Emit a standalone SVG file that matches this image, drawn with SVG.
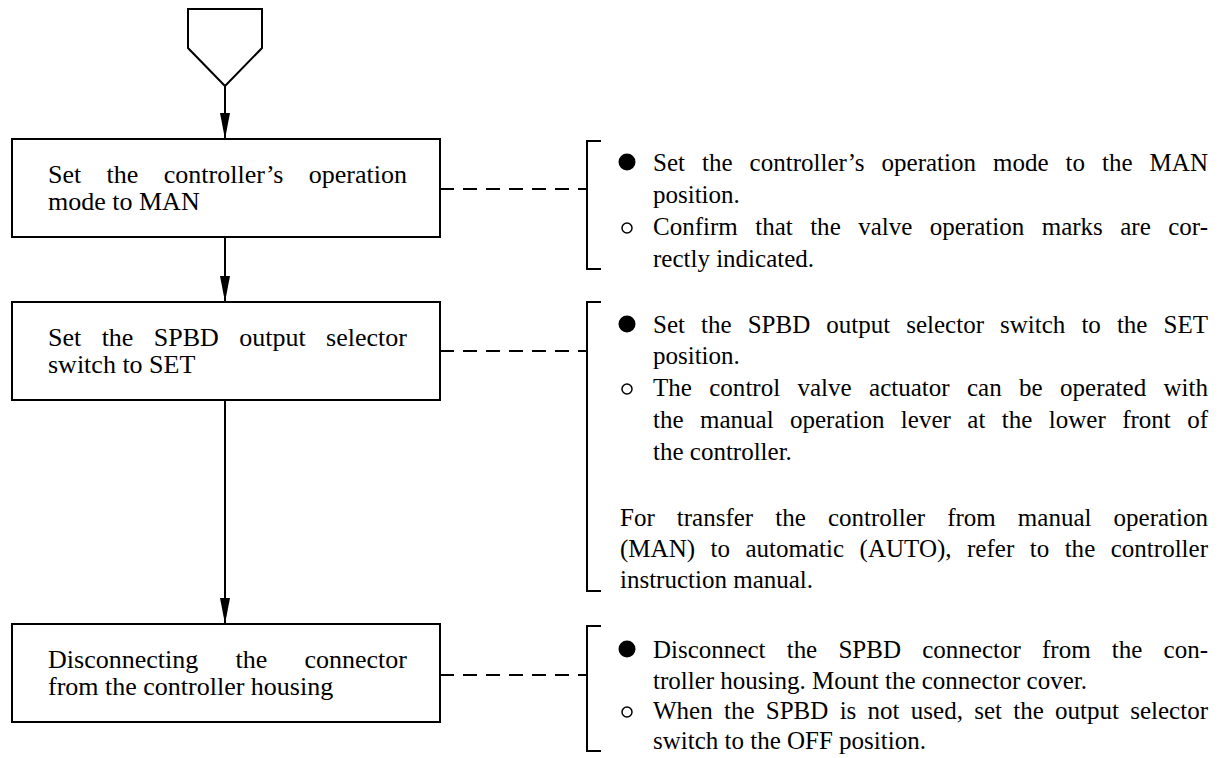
<svg xmlns="http://www.w3.org/2000/svg" width="1222" height="758" viewBox="0 0 1222 758">
<defs>
<marker id="arr" markerUnits="userSpaceOnUse" markerWidth="26" markerHeight="10" refX="26" refY="5" orient="auto">
<path d="M0,0 L26,5 L0,10 Z" fill="#000"/>
</marker>
<style>
.box{fill:#fff;stroke:#000;stroke-width:2}
.ln{fill:none;stroke:#000;stroke-width:2}
.dash{fill:none;stroke:#000;stroke-width:2;stroke-dasharray:14 9}
.br{fill:none;stroke:#000;stroke-width:2}
text{font-family:"Liberation Serif","Times New Roman",serif;font-size:25px;fill:#000}
text.l{font-size:26px}
.dot{fill:#000}
.odot{fill:none;stroke:#000;stroke-width:1.5}
</style>
</defs>
<rect width="1222" height="758" fill="#fff"/>

<g id="start">
<polygon class="box" points="188,9 262,9 262,48 225,86 188,48"/>
</g>

<g id="connectors">
<line class="ln" x1="225" y1="86" x2="225" y2="139" marker-end="url(#arr)"/>
<line class="ln" x1="225" y1="237" x2="225" y2="302" marker-end="url(#arr)"/>
<line class="ln" x1="225" y1="400" x2="225" y2="624" marker-end="url(#arr)"/>
<line class="dash" x1="440" y1="189" x2="587" y2="189"/>
<line class="dash" x1="440" y1="351" x2="587" y2="351"/>
<line class="dash" x1="440" y1="675" x2="587" y2="675"/>
</g>

<g id="step1">
<rect class="box" x="12" y="139" width="428" height="98"/>
<text class="l" x="48" y="183" word-spacing="18.8" textLength="359" lengthAdjust="spacing">Set the controller’s operation</text>
<text class="l" x="48" y="210">mode to MAN</text>
</g>

<g id="step2">
<rect class="box" x="12" y="302" width="428" height="98"/>
<text class="l" x="48" y="346" word-spacing="13.9" textLength="359" lengthAdjust="spacing">Set the SPBD output selector</text>
<text class="l" x="48" y="373">switch to SET</text>
</g>

<g id="step3">
<rect class="box" x="12" y="624" width="428" height="98"/>
<text class="l" x="48" y="668" word-spacing="30.7" textLength="359" lengthAdjust="spacing">Disconnecting the connector</text>
<text class="l" x="48" y="695">from the controller housing</text>
</g>

<g id="note1">
<path class="br" d="M601,141 H587 V269 H601"/>
<circle class="dot" cx="627" cy="162" r="8.5"/>
<text x="653" y="171" word-spacing="10.7" textLength="555" lengthAdjust="spacing">Set the controller’s operation mode to the MAN</text>
<text x="653" y="203">position.</text>
<circle class="odot" cx="627" cy="228" r="5"/>
<text x="653" y="235" word-spacing="11.1" textLength="555" lengthAdjust="spacing">Confirm that the valve operation marks are cor-</text>
<text x="653" y="267">rectly indicated.</text>
</g>

<g id="note2">
<path class="br" d="M601,302 H587 V591 H601"/>
<circle class="dot" cx="627" cy="324" r="8.5"/>
<text x="653" y="333" word-spacing="9.8" textLength="555" lengthAdjust="spacing">Set the SPBD output selector switch to the SET</text>
<text x="653" y="364">position.</text>
<circle class="odot" cx="627" cy="389" r="5"/>
<text x="653" y="396" word-spacing="11.1" textLength="555" lengthAdjust="spacing">The control valve actuator can be operated with</text>
<text x="653" y="428" word-spacing="10.2" textLength="555" lengthAdjust="spacing">the manual operation lever at the lower front of</text>
<text x="653" y="460">the controller.</text>
<text x="620" y="526" word-spacing="15.8" textLength="588" lengthAdjust="spacing">For transfer the controller from manual operation</text>
<text x="620" y="557" word-spacing="9.2" textLength="588" lengthAdjust="spacing">(MAN) to automatic (AUTO), refer to the controller</text>
<text x="620" y="588">instruction manual.</text>
</g>

<g id="note3">
<path class="br" d="M601,626 H587 V751 H601"/>
<circle class="dot" cx="627" cy="649" r="8.5"/>
<text x="653" y="658" word-spacing="15" textLength="555" lengthAdjust="spacing">Disconnect the SPBD connector from the con-</text>
<text x="653" y="689">troller housing. Mount the connector cover.</text>
<circle class="odot" cx="627" cy="712" r="5"/>
<text x="653" y="719" word-spacing="5" textLength="555" lengthAdjust="spacing">When the SPBD is not used, set the output selector</text>
<text x="653" y="749">switch to the OFF position.</text>
</g>
</svg>
